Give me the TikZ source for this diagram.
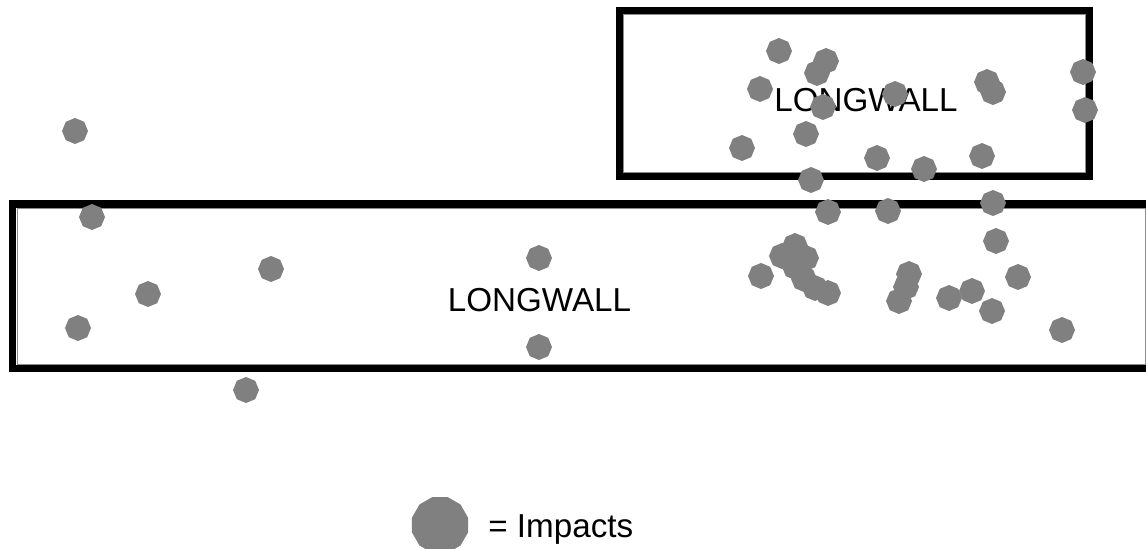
\documentclass[tikz,border=0pt]{standalone}
\usepackage{fontspec}
\setmainfont{Liberation Sans}
\usetikzlibrary{shapes.geometric}
\definecolor{impactgray}{RGB}{128,128,128}
\tikzset{
  impact/.style={regular polygon,regular polygon sides=8,regular polygon rotate=22.5,
    fill=impactgray,draw=none,inner sep=0pt,minimum size=0.52cm},
  wall/.style={draw=black,line width=0.15cm},
  wallrim/.style={draw=black!45,line width=0.02cm},
  label/.style={inner sep=0pt,font=\fontsize{18.9}{22}\selectfont}
}

\begin{document}
\begin{tikzpicture}[x=0.02cm,y=-0.02cm]
\path[use as bounding box] (0,0) rectangle (1146,548);
% the two panels
\draw[wall] (619.5,10.5) rectangle (1089,176);
\draw[wallrim] (623,14) rectangle (1085.5,172.5);
\draw[wall] (12.5,204) rectangle (1160,368.5);
\draw[wallrim] (17,208) rectangle (1145,364);
\node[label] (lwtop) at (866,100.5) {LONGWALL};
\node[label] (lwbottom) at (539.5,300) {LONGWALL};
% impacts
\node[impact] (imp1) at (75,131) {};
\node[impact] (imp2) at (779,51) {};
\node[impact] (imp3) at (826,61) {};
\node[impact] (imp4) at (817,73) {};
\node[impact] (imp5) at (760,89) {};
\node[impact] (imp6) at (895,94) {};
\node[impact] (imp7) at (987,82) {};
\node[impact] (imp8) at (993,92) {};
\node[impact] (imp9) at (1083,72) {};
\node[impact] (imp10) at (1085,110) {};
\node[impact] (imp11) at (823,107) {};
\node[impact] (imp12) at (806,134) {};
\node[impact] (imp13) at (742,148) {};
\node[impact] (imp14) at (877,158) {};
\node[impact] (imp15) at (924,169) {};
\node[impact] (imp16) at (982,156) {};
\node[impact] (imp17) at (811,180) {};
\node[impact] (imp18) at (92,217) {};
\node[impact] (imp19) at (828,212) {};
\node[impact] (imp20) at (888,211) {};
\node[impact] (imp21) at (993,203) {};
\node[impact] (imp22) at (996,241) {};
\node[impact] (imp23) at (271,269) {};
\node[impact] (imp24) at (539,258) {};
\node[impact] (imp25) at (148,294) {};
\node[impact] (imp26) at (78,328) {};
\node[impact] (imp27) at (539,347) {};
\node[impact] (imp28) at (246,390) {};
\node[impact] (imp29) at (761,276) {};
\node[impact] (imp30) at (795,246) {};
\node[impact] (imp31) at (782,256) {};
\node[impact] (imp32) at (806,258) {};
\node[impact] (imp33) at (795,267) {};
\node[impact] (imp34) at (804,279) {};
\node[impact] (imp35) at (815,288) {};
\node[impact] (imp36) at (828,293) {};
\node[impact] (imp37) at (909,274) {};
\node[impact] (imp38) at (906,287) {};
\node[impact] (imp39) at (899,301) {};
\node[impact] (imp40) at (949,298) {};
\node[impact] (imp41) at (972,291) {};
\node[impact] (imp42) at (992,311) {};
\node[impact] (imp43) at (1018,277) {};
\node[impact] (imp44) at (1062,330) {};
% legend
\node[impact,regular polygon sides=12,regular polygon rotate=0,minimum size=1.16cm] (keymark) at (440,525) {};
\node[label,anchor=base west] (keytext) at (488,537) {= Impacts};
\end{tikzpicture}
\end{document}
